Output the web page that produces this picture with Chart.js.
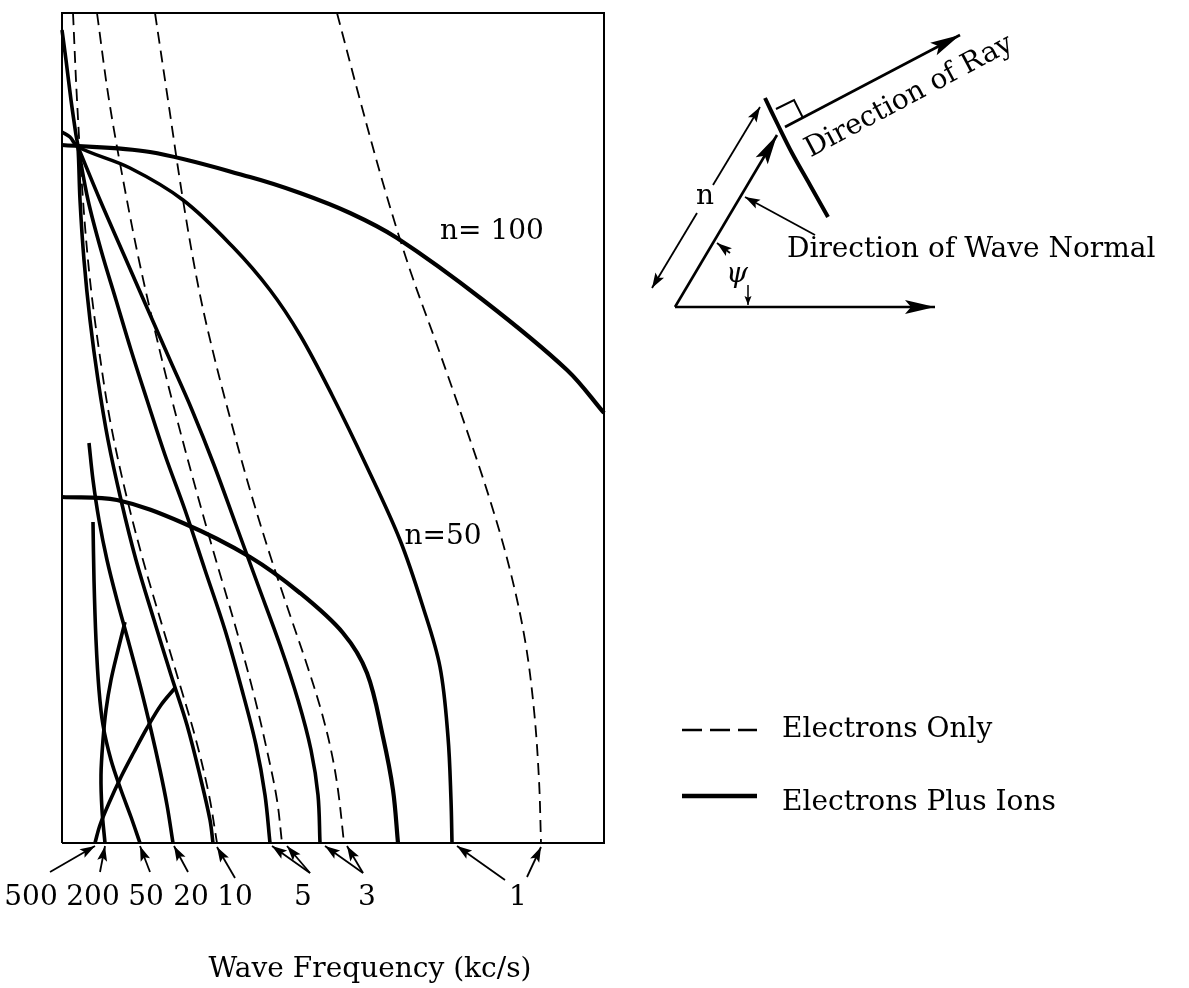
<!DOCTYPE html>
<html lang="en">
<head>
<meta charset="UTF-8">
<title>Ray directions</title>
<script src="https://cdn.jsdelivr.net/npm/chart.js@4.4.1/dist/chart.umd.min.js"></script>
<style>
  html, body { margin: 0; padding: 0; background: #fff; }
  #wrap { width: 1189px; height: 988px; }
</style>
</head>
<body>
<div id="wrap"><canvas id="rays" width="1189" height="988"></canvas></div>
<script>
// values, [x, y] in plot units (the frame is 542 wide, 830 high)
// electrons plus ions (solid)
const ions1 = [[0,711],[8,706],[16,696],[68,675],[121,643],[171,596],[208,553],[238,508],[270,448],[305,376],[338,303],[361,236],[378,176],[386,106],[389,43],[390,0]];
const ions3 = [[16,696],[38,643],[62,588],[86,533],[108,483],[130,433],[152,378],[174,318],[196,258],[218,198],[236,143],[249,93],[256,48],[258,0]];
const ions5 = [[16,696],[26,643],[39,593],[54,543],[69,493],[85,443],[103,388],[123,333],[143,273],[163,213],[180,153],[194,98],[203,48],[208,0]];
const ions10 = [[0,813],[4,783],[9,743],[14,708],[16,696],[18,643],[22,583],[28,523],[36,463],[46,403],[59,343],[74,283],[92,223],[109,168],[125,118],[139,63],[148,23],[151,0]];
const ions20 = [[27,400],[31,363],[37,323],[45,283],[55,243],[66,203],[78,158],[89,113],[98,73],[105,38],[111,0]];
const ions50 = [[31,321],[32,263],[34,203],[37,153],[41,118],[49,83],[59,53],[69,26],[78,0]];
const ions200 = [[63,221],[56,193],[49,163],[44,133],[41,103],[39,68],[40,33],[43,0]];
const ions500 = [[113,155],[99,138],[85,115],[72,91],[59,66],[47,40],[38,18],[33,0]];
// electrons only (dashed)
const elec1 = [[275,830],[298,743],[323,653],[348,573],[375,498],[403,418],[428,343],[448,273],[463,203],[472,133],[477,63],[479,0]];
const elec3 = [[93,830],[106,743],[121,643],[137,553],[153,483],[170,418],[188,353],[208,288],[228,228],[245,178],[259,133],[269,93],[276,53],[282,0]];
const elec5 = [[35,830],[47,743],[63,653],[78,578],[94,508],[110,443],[130,368],[151,293],[173,218],[192,148],[206,88],[215,43],[220,0]];
const elec10 = [[11,830],[15,743],[21,643],[28,563],[37,493],[48,423],[63,353],[81,283],[100,218],[118,158],[134,103],[147,48],[155,0]];
// constant refractive index
const n100 = [[0,698],[88,691],[188,666],[238,650],[288,630],[335,605],[421,543],[505,473],[542,430]];
const n50 = [[0,346],[55,343],[121,320],[188,286],[238,250],[281,210],[305,170],[321,106],[331,53],[336,0]];

// frequency labels under the frame and where their arrows point
const freqLabels = ['500', '200', '50', '20', '10', '5', '3', '1'];
const freqLabelX = [-31, 31, 84, 129, 173, 241, 305, 456];
const freqArrows = [
  [[-12,-29],[33,-3]], [[38,-29],[43,-3]], [[88,-29],[78,-3]], [[126,-29],[112,-3]],
  [[173,-35],[155,-4]], [[248,-30],[210,-3]], [[248,-30],[225,-3]],
  [[301,-30],[263,-3]], [[301,-30],[285,-3]], [[443,-37],[395,-3]], [[465,-34],[479,-4]]
];

const frame = [[0,0],[542,0],[542,830],[0,830],[0,0]];

// inset diagram
const horizontal = [[613,536],[873,536]];
const waveNormal = [[613,536],[715,708]];
const ray = [[723,716],[898,808]];
const wavefront = [[703,745],[716,718],[730,690],[748,658],[766,626]];
const rightAngle = [[714,734],[732,743],[741,725]];
const nLow = [[635,630],[590,555]];
const nHigh = [[651,658],[698,736]];
const normalPointer = [[753,608],[683,646]];
const psiArrowA = [[668,590],[655,600]];
const psiArrowB = [[686,558],[686,538]];

// legend samples
const legendDashed = [[620,113],[695,113]];
const legendSolid = [[620,47],[695,47]];

const notes = [
  { text: 'n= 100', x: 430, y: 611 },
  { text: 'n=50', x: 381, y: 306 },
  { text: 'Wave Frequency (kc/s)', x: 308, y: -127 },
  { text: 'n', x: 643, y: 646 },
  { text: 'ψ', x: 675, y: 568, italic: true },
  { text: 'Direction of Wave Normal', x: 725, y: 593, align: 'left' },
  { text: 'Direction of Ray', x: 745, y: 692, align: 'left', rotate: -28 },
  { text: 'Electrons Only', x: 720, y: 113, align: 'left' },
  { text: 'Electrons Plus Ions', x: 720, y: 40, align: 'left' }
];

function pts(arr) {
  return arr.map(p => ({ x: p[0], y: p[1] }));
}

function solid(arr, extra) {
  return Object.assign({ data: pts(arr), borderWidth: 3.6, tension: 0.35 }, extra);
}
function dashed(arr, extra) {
  return Object.assign({ data: pts(arr), borderWidth: 1.8, borderDash: [12, 7], tension: 0.35 }, extra);
}
function straight(arr, width, extra) {
  return Object.assign({ data: pts(arr), borderWidth: width, tension: 0 }, extra);
}

const datasets = [
  straight(frame, 2),
  solid(ions1), solid(ions3), solid(ions5), solid(ions10), solid(ions20),
  solid(ions50), solid(ions200), solid(ions500),
  dashed(elec1), dashed(elec3), dashed(elec5), dashed(elec10),
  solid(n100, { borderWidth: 4.2 }), solid(n50, { borderWidth: 4.2 }),
  straight(horizontal, 2.6, { arrow: 'big' }),
  straight(waveNormal, 2.6, { arrow: 'big' }),
  straight(ray, 2.6, { arrow: 'big' }),
  solid(wavefront, { borderWidth: 4 }),
  straight(rightAngle, 2),
  straight(nLow, 1.8, { arrow: 'small' }),
  straight(nHigh, 1.8, { arrow: 'small' }),
  straight(normalPointer, 1.8, { arrow: 'small' }),
  straight(psiArrowA, 1.8, { arrow: 'small' }),
  straight(psiArrowB, 1.5, { arrow: 'tiny' }),
  straight(legendDashed, 2.4, { borderDash: [20, 8] }),
  straight(legendSolid, 4.5)
];
freqArrows.forEach(a => datasets.push(straight(a, 1.8, { arrow: 'small' })));

datasets.forEach(d => {
  d.showLine = true;
  d.pointRadius = 0;
  d.borderColor = '#000';
  d.fill = false;
});

const heads = { big: [30, 7], small: [15, 5], tiny: [9, 3.5] };

const arrowPlugin = {
  id: 'arrows',
  afterDatasetsDraw(chart) {
    const ctx = chart.ctx;
    chart.data.datasets.forEach((ds, i) => {
      if (!ds.arrow) return;
      const p = chart.getDatasetMeta(i).data;
      const a = p[p.length - 2], b = p[p.length - 1];
      const ang = Math.atan2(b.y - a.y, b.x - a.x);
      const [len, half] = heads[ds.arrow];
      ctx.save();
      ctx.fillStyle = '#000';
      ctx.translate(b.x, b.y);
      ctx.rotate(ang);
      ctx.beginPath();
      ctx.moveTo(0, 0);
      ctx.lineTo(-len, -half);
      ctx.lineTo(-len * 0.8, 0);
      ctx.lineTo(-len, half);
      ctx.closePath();
      ctx.fill();
      ctx.restore();
    });
  }
};

const textPlugin = {
  id: 'notes',
  afterDatasetsDraw(chart) {
    const ctx = chart.ctx;
    const xs = chart.scales.x, ys = chart.scales.y;
    ctx.save();
    ctx.fillStyle = '#000';
    ctx.textBaseline = 'middle';
    notes.forEach(n => {
      ctx.save();
      ctx.font = (n.italic ? 'italic ' : '') + '28px "DejaVu Serif"';
      ctx.textAlign = n.align || 'center';
      ctx.translate(xs.getPixelForValue(n.x), ys.getPixelForValue(n.y));
      if (n.rotate) ctx.rotate(n.rotate * Math.PI / 180);
      ctx.fillText(n.text, 0, 0);
      ctx.restore();
    });
    ctx.font = '28px "DejaVu Serif"';
    ctx.textAlign = 'center';
    freqLabels.forEach((t, i) => {
      ctx.fillText(t, xs.getPixelForValue(freqLabelX[i]), ys.getPixelForValue(-55));
    });
    ctx.restore();
  }
};

new Chart(document.getElementById('rays'), {
  type: 'scatter',
  data: { datasets: datasets },
  options: {
    responsive: false,
    devicePixelRatio: 1,
    animation: false,
    layout: { padding: 0 },
    plugins: { legend: { display: false }, tooltip: { enabled: false } },
    scales: {
      x: { type: 'linear', min: -62, max: 1127, display: false },
      y: { type: 'linear', min: -145, max: 843, display: false }
    }
  },
  plugins: [arrowPlugin, textPlugin]
});
</script>
</body>
</html>
